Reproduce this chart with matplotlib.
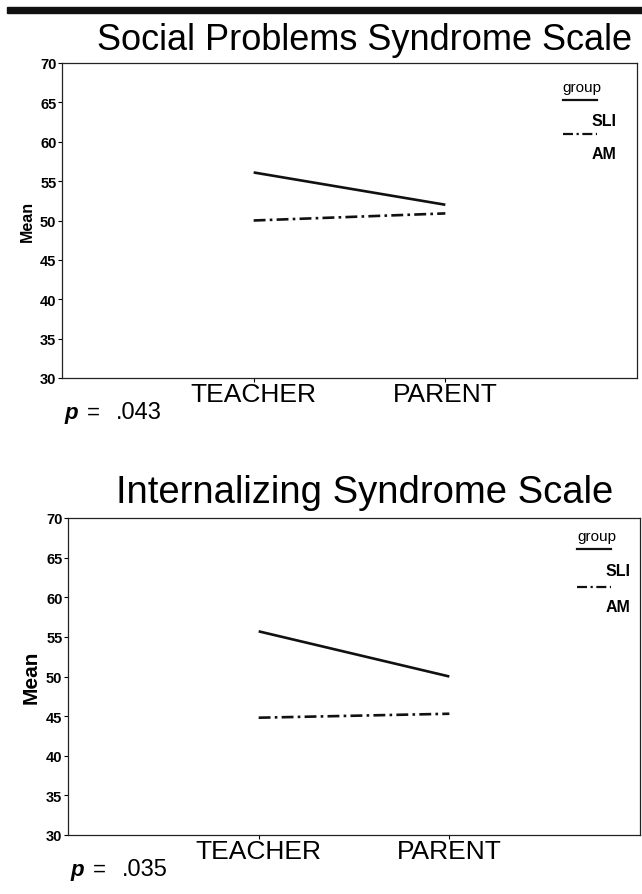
import matplotlib.pyplot as plt
from matplotlib.lines import Line2D
from matplotlib.patches import Rectangle

titles = ['Social Problems Syndrome Scale', 'Internalizing Syndrome Scale']
informants = ['TEACHER', 'PARENT']
groups = ['SLI', 'AM']
sli_means = [[56.1, 52.0], [55.7, 50.0]]
am_means = [[50.0, 50.9], [44.8, 45.3]]
p_values = ['.043', '.035']
yticks = [30, 35, 40, 45, 50, 55, 60, 65, 70]

plt.rcParams['font.family'] = ['Liberation Sans', 'DejaVu Sans']

dashdot = (0, (4.5, 1.6, 1.0, 1.6))

fig = plt.figure(figsize=(6.42, 8.95), dpi=100)

# heavy rule across the top of the page
fig.patches.append(Rectangle((7 / 642, 1 - 14 / 895), 635 / 642, 6 / 895,
                             transform=fig.transFigure, color='#111111'))

boxes = [[62 / 642, 1 - 379 / 895, 575 / 642, 315 / 895],
         [68 / 642, 1 - 836 / 895, 572 / 642, 317 / 895]]
title_y = [1 - 41 / 895, 1 - 493 / 895]
title_size = [26, 27.5]
mean_size = [11.5, 15]
leg_x = [0.871, 0.89]
leg_y = [[0.924, 0.883, 0.819, 0.775, 0.714], [0.943, 0.902, 0.833, 0.782, 0.722]]

for i in range(2):
    ax = fig.add_axes(boxes[i])
    x = range(1, len(informants) + 1)
    ax.plot(x, sli_means[i], color='#111111', lw=1.9, solid_capstyle='butt')
    ax.plot(x, am_means[i], color='#111111', lw=1.9, linestyle=dashdot)
    ax.set_xlim(0, 3)
    ax.set_ylim(30, 70)
    ax.set_yticks(yticks)
    ax.set_yticklabels([str(v) for v in yticks], fontweight='bold', fontsize=10.5)
    ax.set_xticks(list(x))
    ax.set_xticklabels(informants, fontsize=19)
    ax.tick_params(axis='y', length=3, width=0.8, pad=1)
    ax.tick_params(axis='x', length=3, width=0.8, pad=0)
    for s in ax.spines.values():
        s.set_linewidth(0.9)
        s.set_color('#222222')
    ax.set_ylabel('Mean', fontweight='bold', fontsize=mean_size[i], labelpad=4)

    fig.text(0.568, title_y[i], titles[i], ha='center', va='center',
             fontsize=title_size[i])

    # hand-drawn legend box contents
    lx = leg_x[i]
    ly = leg_y[i]
    ax.text(lx, ly[0], 'group', transform=ax.transAxes, fontsize=11, va='center')
    ax.add_line(Line2D([lx, lx + 0.06], [ly[1], ly[1]], transform=ax.transAxes,
                       color='#111111', lw=1.6))
    ax.text(lx + 0.05, ly[2], groups[0], transform=ax.transAxes, fontsize=11.5,
            fontweight='bold', va='center')
    ax.add_line(Line2D([lx, lx + 0.06], [ly[3], ly[3]], transform=ax.transAxes,
                       color='#111111', lw=1.6, linestyle=dashdot))
    ax.text(lx + 0.05, ly[4], groups[1], transform=ax.transAxes, fontsize=11.5,
            fontweight='bold', va='center')

    # significance note under each panel
    py = boxes[i][1] - 40 / 895
    px = boxes[i][0]
    fig.text(px + 2 / 642, py, 'p', fontsize=16, fontweight='bold',
             style='italic', va='baseline')
    fig.text(px + 25 / 642, py, '=', fontsize=16, va='baseline')
    fig.text(px + 54 / 642, py, p_values[i], fontsize=17, va='baseline')

fig.savefig('out.png', dpi=100)
